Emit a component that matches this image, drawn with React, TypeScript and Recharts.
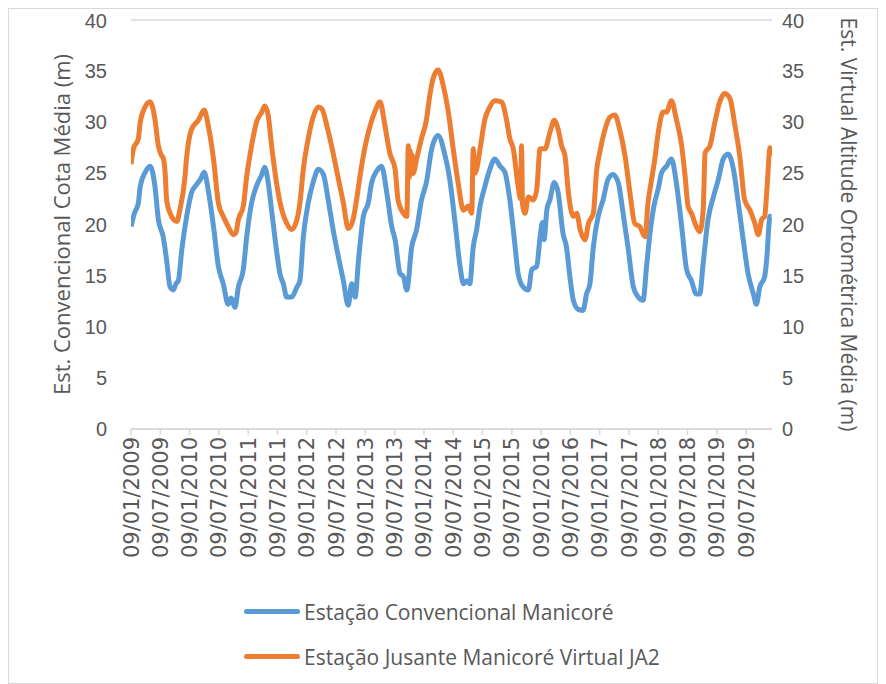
import { LineChart, Line, XAxis, YAxis, CartesianGrid, Legend } from 'recharts';

// month offsets counted from 09/01/2009, levels in metres
const convMonths = [
    0, 0.7, 1.5, 1.9, 2.9, 3.9, 4.9, 5.6, 6.6, 7.3, 8.0, 8.7, 9.2, 9.7, 10.4, 11.4,
    12.4, 13.4, 14.2, 15.0, 15.8, 16.9, 17.9, 18.9, 19.9, 20.5, 21.3, 22.0, 23.0, 23.7,
    24.7, 25.7, 26.8, 27.4, 28.1, 28.8, 29.8, 30.5, 31.2, 31.9, 32.9, 34.0, 34.6, 35.3,
    36.3, 37.3, 38.4, 39.4, 40.4, 41.4, 42.5, 43.5, 44.5, 45.2, 45.9, 46.6, 47.6, 48.6,
    49.3, 50.3, 51.3, 52.4, 53.4, 54.1, 55.1, 55.8, 56.5, 57.5, 58.5, 59.5, 60.5, 61.6,
    62.9, 64.2, 65.3, 66.4, 67.4, 68.1, 68.8, 69.4, 70.1, 70.8, 71.5, 72.5, 73.5, 74.5,
    75.6, 76.6, 77.6, 78.6, 79.3, 80.3, 81.4, 82.1, 83.1, 83.8, 84.3, 84.6, 85.2, 85.8,
    86.7, 87.5, 88.5, 89.2, 89.9, 90.6, 91.6, 92.6, 93.3, 94.0, 94.7, 95.7, 96.7, 97.7,
    98.7, 99.8, 100.8, 101.8, 102.9, 103.9, 104.9, 105.6, 106.4, 107.2, 108.0, 108.7,
    109.7, 110.7, 111.7, 112.8, 113.8, 114.8, 115.8, 116.5, 117.2, 118.2, 119.3, 120.3,
    121.3, 122.3, 123.4, 124.4, 125.4, 126.4, 127.5, 128.1, 128.8, 129.8, 130.2, 130.9, 131.2,
];
const convLevels = [
    19.8, 21.1, 22.1, 23.75, 25.1, 25.7, 23.75, 20.5, 18.8, 16.5, 13.9, 13.6, 14.2, 14.5, 17.5, 20.8,
    23.1, 23.9, 24.4, 25.1, 23.4, 19.8, 15.9, 14.2, 12.2, 12.8, 11.9, 13.9, 15.6, 18.8,
    22.1, 23.75, 24.9, 25.6, 24.1, 21.4, 17.5, 15.2, 14.2, 12.9, 12.9, 13.9, 14.5, 18.8,
    22.1, 24.1, 25.4, 24.9, 22.4, 19.5, 16.8, 14.5, 12.1, 14.2, 12.9, 16.5, 20.8, 22.1,
    24.1, 25.2, 25.7, 23.1, 19.8, 18.5, 15.2, 14.9, 13.6, 17.8, 19.5, 22.4, 24.1, 27.4,
    28.7, 27.0, 24.4, 20.1, 15.9, 14.2, 14.5, 14.2, 17.8, 19.5, 21.8, 23.75, 25.4, 26.4,
    25.7, 25.1, 22.4, 18.2, 15.2, 13.9, 13.6, 15.6, 15.9, 18.8, 20.2, 18.5, 21.5, 22.4,
    24.1, 23.1, 19.1, 17.8, 14.9, 12.6, 11.7, 11.6, 13.2, 14.2, 17.8, 20.8, 22.4, 24.4,
    24.9, 24.1, 21.1, 17.8, 13.9, 12.9, 12.6, 15.9, 19.5, 22.0, 23.5, 25.1,
    25.7, 26.4, 24.1, 19.8, 15.6, 14.5, 13.2, 13.2, 16.2, 20.5, 22.7, 24.4,
    26.4, 26.9, 25.4, 22.1, 18.5, 15.2, 13.2, 12.2, 13.9, 14.9, 16.5, 20.8, 20.8,
];

const virtMonths = [
    0, 0.5, 1.5, 1.9, 2.9, 3.9, 4.9, 5.6, 6.3, 6.6, 7.0, 7.3, 8.0, 8.7, 9.4, 10.0, 11.0, 11.4,
    12.4, 13.8, 15.0, 15.8, 16.9, 17.9, 18.9, 19.9, 21.0, 21.5, 22.0, 23.0, 23.7,
    24.7, 25.7, 26.8, 27.4, 28.1, 28.8, 29.8, 30.9, 31.9, 32.9, 34.0, 34.6, 35.3,
    36.3, 37.3, 38.4, 39.1, 40.1, 41.4, 42.5, 43.5, 44.5, 45.5, 46.2, 46.9, 47.9,
    49.0, 50.0, 51.0, 52.0, 53.0, 54.1, 54.7, 55.8, 56.5, 56.8, 57.0, 57.2, 57.4, 57.6, 57.8,
    58.5, 59.5, 60.5, 61.2, 61.9, 62.9, 64.0, 65.0, 66.0, 67.0, 68.1, 69.1, 69.8, 70.1, 70.4,
    70.8, 71.5, 72.5, 73.5, 74.5, 75.9, 76.9, 77.6, 78.3, 79.3, 79.8, 80.0, 80.2, 80.7,
    81.4, 82.4, 83.1, 83.8, 84.8, 85.8, 86.7, 87.5, 88.2, 88.9, 89.6, 90.6, 91.3, 92.0,
    93.0, 93.7, 94.7, 95.4, 96.0, 97.1, 98.1, 99.1, 100.1, 101.2, 102.2, 103.2, 104.2,
    105.3, 105.9, 106.5, 107.3, 108.0, 109.0, 109.7, 110.7, 111.7, 112.8, 113.5, 114.1,
    114.8, 115.8, 116.5, 117.2, 117.6, 118.6, 119.6, 120.6, 121.6, 122.7, 123.7, 124.7,
    125.7, 126.8, 127.8, 128.5, 129.2, 129.8, 130.3, 130.9, 131.2,
];
const virtLevels = [
    25.9, 27.4, 28.4, 30.0, 31.5, 32.0, 30.3, 27.7, 26.7, 26.5, 25.0, 22.4, 21.1, 20.5, 20.3, 21.4, 24.4, 26.6,
    29.3, 30.2, 31.2, 29.7, 26.4, 22.1, 20.8, 19.8, 19.0, 19.2, 20.5, 21.8, 24.7,
    27.7, 30.0, 31.0, 31.6, 30.7, 27.7, 24.1, 21.4, 20.1, 19.5, 20.5, 22.1, 25.4,
    28.4, 30.5, 31.5, 31.3, 29.7, 27.0, 24.4, 22.1, 19.6, 20.5, 22.4, 24.7, 27.5,
    29.7, 31.1, 32.0, 29.7, 27.0, 25.4, 22.4, 21.1, 20.8, 27.7, 24.6, 27.2, 24.9, 26.8, 25.0,
    26.4, 28.4, 30.2, 32.6, 34.3, 35.1, 33.5, 31.0, 27.4, 24.1, 21.4, 21.8, 21.1, 27.4, 25.0,
    25.4, 27.4, 30.3, 31.5, 32.1, 32.0, 30.3, 28.4, 27.4, 23.75, 22.5, 27.7, 22.0, 21.1,
    22.7, 22.4, 23.4, 27.4, 27.4, 29.0, 30.2, 29.3, 27.7, 26.7, 23.1, 20.8, 21.1, 19.5,
    18.5, 20.1, 21.1, 25.4, 27.0, 29.3, 30.5, 30.7, 29.3, 26.7, 23.1, 20.1, 19.8,
    18.8, 22.1, 24.0, 26.4, 29.0, 31.0, 31.0, 32.1, 30.3, 27.7, 24.7, 21.8,
    21.1, 19.8, 19.3, 21.4, 27.0, 27.7, 30.0, 32.0, 32.8, 32.3, 29.7, 26.7,
    22.4, 21.4, 20.1, 19.0, 20.5, 20.8, 23.75, 27.5, 26.7,
];

const dateTicks = [0, 6, 12, 18, 24, 30, 36, 42, 48, 54, 60, 66, 72, 78, 84, 90, 96, 102, 108, 114, 120, 126];
const levelTicks = [0, 5, 10, 15, 20, 25, 30, 35, 40];

const seriesNames = ['Estação Convencional Manicoré', 'Estação Jusante Manicoré Virtual JA2'];
const seriesColors = ['#5b9bd5', '#ed7d31'];
const leftTitle = 'Est. Convencional Cota Média (m)';
const rightTitle = 'Est. Virtual Altitude Ortométrica Média (m)';

const convData = convMonths.map((m, i) => ({ m, v: convLevels[i] }));
const virtData = virtMonths.map((m, i) => ({ m, v: virtLevels[i] }));

const fmtDate = (m: number) => {
    const year = 2009 + Math.floor(m / 12);
    const month = m % 12 === 0 ? '01' : '07';
    return `09/${month}/${year}`;
};

const DateTick = (props: any) => {
    const { x, y, payload } = props;
    return (
        <g transform={`translate(${x},${y})`}>
            <text
                transform="rotate(-90)"
                textAnchor="end"
                dy="0.36em"
                x={0}
                fill="#595959"
                fontSize={21}
                fontFamily="DejaVu Sans"
            >
                {fmtDate(payload.value)}
            </text>
        </g>
    );
};

const renderLegend = () => (
    <div style={{ paddingLeft: 235, fontFamily: '"Open Sans", sans-serif', fontSize: 21, color: '#595959' }}>
        {seriesNames.map((name, i) => (
            <div key={name} style={{ display: 'flex', alignItems: 'center', height: 45 }}>
                <span
                    style={{
                        display: 'inline-block',
                        width: 56,
                        height: 5,
                        borderRadius: 3,
                        background: seriesColors[i],
                        marginRight: 4,
                    }}
                />
                <span>{name}</span>
            </div>
        ))}
    </div>
);

export default function App() {
    return (
        <div style={{ width: 870, height: 676, border: '1px solid #d9d9d9', boxSizing: 'border-box', background: '#fff' }}>
            <LineChart width={868} height={674} margin={{ top: 11, right: 0, left: 0, bottom: 4 }}>
                <CartesianGrid vertical={false} stroke="#d9d9d9" strokeWidth={1.5} />
                <XAxis
                    dataKey="m"
                    type="number"
                    domain={[0, 131.3]}
                    ticks={dateTicks}
                    interval={0}
                    tick={<DateTick />}
                    tickSize={6}
                    tickMargin={2}
                    height={160}
                    stroke="#d9d9d9"
                    strokeWidth={1.5}
                    allowDataOverflow
                />
                <YAxis
                    yAxisId="left"
                    domain={[0, 40]}
                    ticks={levelTicks}
                    width={122}
                    axisLine={false}
                    tickLine={false}
                    tickSize={0}
                    tickMargin={24}
                    tick={{ fill: '#595959', fontSize: 20, fontFamily: '"Liberation Sans", sans-serif' }}
                    label={{
                        value: leftTitle,
                        angle: -90,
                        position: 'center',
                        dx: -8,
                        fill: '#595959',
                        fontSize: 22,
                        fontFamily: '"Open Sans", sans-serif',
                    }}
                />
                <YAxis
                    yAxisId="right"
                    orientation="right"
                    domain={[0, 40]}
                    ticks={levelTicks}
                    width={105}
                    axisLine={false}
                    tickLine={false}
                    tickSize={0}
                    tickMargin={10}
                    tick={{ fill: '#595959', fontSize: 20, fontFamily: '"Liberation Sans", sans-serif' }}
                    label={{
                        value: rightTitle,
                        angle: 90,
                        position: 'center',
                        dx: 24,
                        fill: '#595959',
                        fontSize: 21,
                        fontFamily: '"Open Sans", sans-serif',
                    }}
                />
                <Legend verticalAlign="bottom" height={90} content={renderLegend} />
                <Line
                    yAxisId="left"
                    data={convData}
                    dataKey="v"
                    name={seriesNames[0]}
                    type="monotone"
                    stroke={seriesColors[0]}
                    strokeWidth={5}
                    dot={false}
                    isAnimationActive={false}
                />
                <Line
                    yAxisId="right"
                    data={virtData}
                    dataKey="v"
                    name={seriesNames[1]}
                    type="monotone"
                    stroke={seriesColors[1]}
                    strokeWidth={5}
                    dot={false}
                    isAnimationActive={false}
                />
            </LineChart>
        </div>
    );
}
